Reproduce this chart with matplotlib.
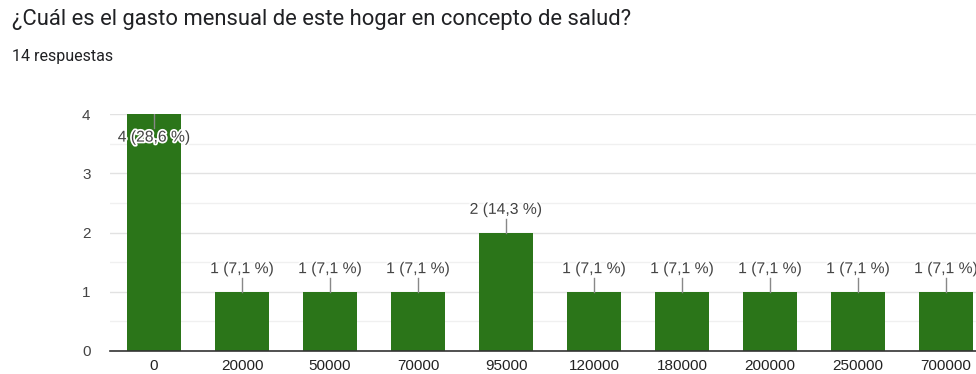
import matplotlib
matplotlib.use('Agg')
import matplotlib.pyplot as plt
import matplotlib.patheffects as pe

categories = ['0', '20000', '50000', '70000', '95000', '120000', '180000', '200000', '250000', '700000']
counts = [4, 1, 1, 1, 2, 1, 1, 1, 1, 1]
total = 14

bar_color = '#2b7519'
text_color = '#444444'

fig = plt.figure(figsize=(9.76, 3.74), dpi=100)
fig.text(12 / 976, 1 - 20 / 374, '¿Cuál es el gasto mensual de este hogar en concepto de salud?',
         fontsize=15.8, family='Roboto', color='#202124', va='center', ha='left')
fig.text(12 / 976, 1 - 57 / 374, '%d respuestas' % total,
         fontsize=11.5, family='Roboto', color='#202124', va='center', ha='left')

# axes run slightly past the right edge of the figure
ax = fig.add_axes([110 / 976, 23 / 374, 880 / 976, 237 / 374])
x = list(range(len(categories)))
ax.bar(x, counts, width=0.62, color=bar_color, zorder=3)
ax.set_xlim(-0.5, len(categories) - 0.5)
ax.set_ylim(0, 4)
ax.set_yticks([0, 1, 2, 3, 4])
ax.set_yticks([0.5, 1.5, 2.5, 3.5], minor=True)
ax.tick_params(axis='y', which='both', length=0, pad=14, labelsize=11, labelcolor=text_color)
ax.tick_params(axis='x', length=0, pad=6, labelsize=11, labelcolor='#222222')
ax.set_xticks(x)
ax.set_xticklabels(categories, family='Liberation Sans')
for lbl in ax.get_yticklabels():
    lbl.set_family('Liberation Sans')
ax.grid(axis='y', which='major', color='#e2e2e2', lw=1, zorder=0)
ax.grid(axis='y', which='minor', color='#f0f0f0', lw=1, zorder=0)
for side in ['top', 'right', 'left']:
    ax.spines[side].set_visible(False)
ax.spines['bottom'].set_color('#333333')
ax.spines['bottom'].set_linewidth(1.2)
ax.spines['bottom'].set_zorder(4)

halo = [pe.withStroke(linewidth=2.5, foreground='white')]
for xi, c in zip(x, counts):
    label = '%d (%s %%)' % (c, ('%.1f' % (100.0 * c / total)).replace('.', ','))
    if c == max(counts):
        # tallest bar: label sits inside the bar under a short leader
        ax.plot([xi, xi], [c, c - 0.24], color='#888888', lw=1, zorder=5)
        ax.text(xi, c - 0.39, label, ha='center', va='center', fontsize=11.3,
                family='Liberation Sans', color=text_color, path_effects=halo, zorder=6)
    else:
        ax.plot([xi, xi], [c, c + 0.23], color='#888888', lw=1, zorder=5)
        ax.text(xi, c + 0.39, label, ha='center', va='center', fontsize=11.3,
                family='Liberation Sans', color=text_color, path_effects=halo, zorder=6)

fig.savefig('out.png', dpi=100)
